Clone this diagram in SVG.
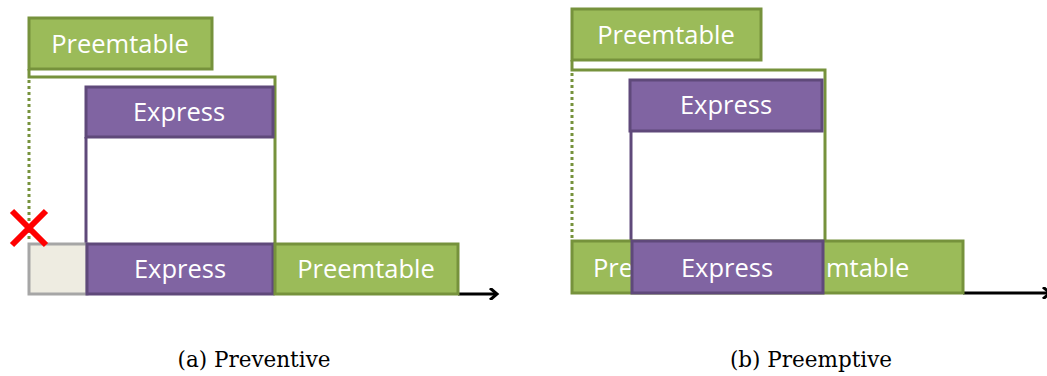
<svg xmlns="http://www.w3.org/2000/svg" width="1047" height="376" viewBox="0 0 1047 376">
<defs>
<style>
.g{fill:#9BBB59;stroke:#76923C;stroke-width:3}
.p{fill:#8064A2;stroke:#5F497A;stroke-width:3}
.gr{fill:#EEECE1;stroke:#A6A6A6;stroke-width:3}
.gl{fill:none;stroke:#76923C;stroke-width:3}
.gd{fill:none;stroke:#76923C;stroke-width:3;stroke-dasharray:3 3}
.pl{fill:none;stroke:#5F497A;stroke-width:3}
.t{font-family:"Open Sans","Noto Sans",sans-serif;font-size:25.5px;fill:#fff;text-anchor:middle}
.tl{font-family:"Open Sans","Noto Sans",sans-serif;font-size:25.5px;fill:#fff}
.cap{font-family:"DejaVu Serif","Liberation Serif",serif;font-size:21.5px;fill:#000;text-anchor:middle}
.ax{fill:none;stroke:#000;stroke-width:3}
</style>
<marker id="ah" markerWidth="12" markerHeight="12" refX="9" refY="6" orient="auto" markerUnits="userSpaceOnUse">
<path d="M2,0 L9,6 L2,12" fill="none" stroke="#000" stroke-width="3"/>
</marker>
</defs>
<rect width="1047" height="376" fill="#fff"/>
<g id="connectors">
<line class="ax" x1="458" y1="294" x2="497" y2="294" marker-end="url(#ah)"/>
<line class="ax" x1="963" y1="293" x2="1050" y2="293" marker-end="url(#ah)"/>
<polyline class="gl" points="29,69 29,77 275,77 275,270"/>
<line class="gd" x1="29" y1="80" x2="29" y2="240"/>
<line class="pl" x1="86" y1="137" x2="86" y2="244"/>
<polyline class="gl" points="572,60 572,70 825,70 825,268"/>
<line class="gd" x1="572" y1="73" x2="572" y2="240"/>
<line class="pl" x1="631" y1="131" x2="631" y2="241"/>
</g>
<g id="a-preemtable-top"><rect class="g" x="29" y="18" width="183" height="51"/><text class="t" x="120" y="53">Preemtable</text></g>
<g id="a-express-top"><rect class="p" x="86" y="87" width="187" height="50"/><text class="t" x="179" y="121">Express</text></g>
<g id="a-idle"><rect class="gr" x="29" y="244" width="58" height="50"/></g>
<g id="a-express-bottom"><rect class="p" x="87" y="244" width="186" height="50"/><text class="t" x="180" y="278">Express</text></g>
<g id="a-preemtable-bottom"><rect class="g" x="275" y="244" width="183" height="50"/><text class="t" x="366" y="278">Preemtable</text></g>
<g id="a-cross"><path d="M12,211 L46,245 M46,211 L12,245" stroke="#FF0000" stroke-width="6" fill="none"/></g>
<g id="b-preemtable-top"><rect class="g" x="572" y="9" width="189" height="51"/><text class="t" x="666" y="44">Preemtable</text></g>
<g id="b-express-top"><rect class="p" x="630" y="80" width="192" height="51"/><text class="t" x="726" y="114">Express</text></g>
<g id="b-preemtable-bottom"><rect class="g" x="572" y="241" width="391" height="52"/><text class="tl" x="593" y="277">Pre</text><text class="tl" x="826" y="277">mtable</text></g>
<g id="b-express-bottom"><rect class="p" x="632" y="241" width="191" height="52"/><text class="t" x="727" y="277">Express</text></g>
<text class="cap" x="254" y="367">(a) Preventive</text>
<text class="cap" x="811" y="367">(b) Preemptive</text>
</svg>
